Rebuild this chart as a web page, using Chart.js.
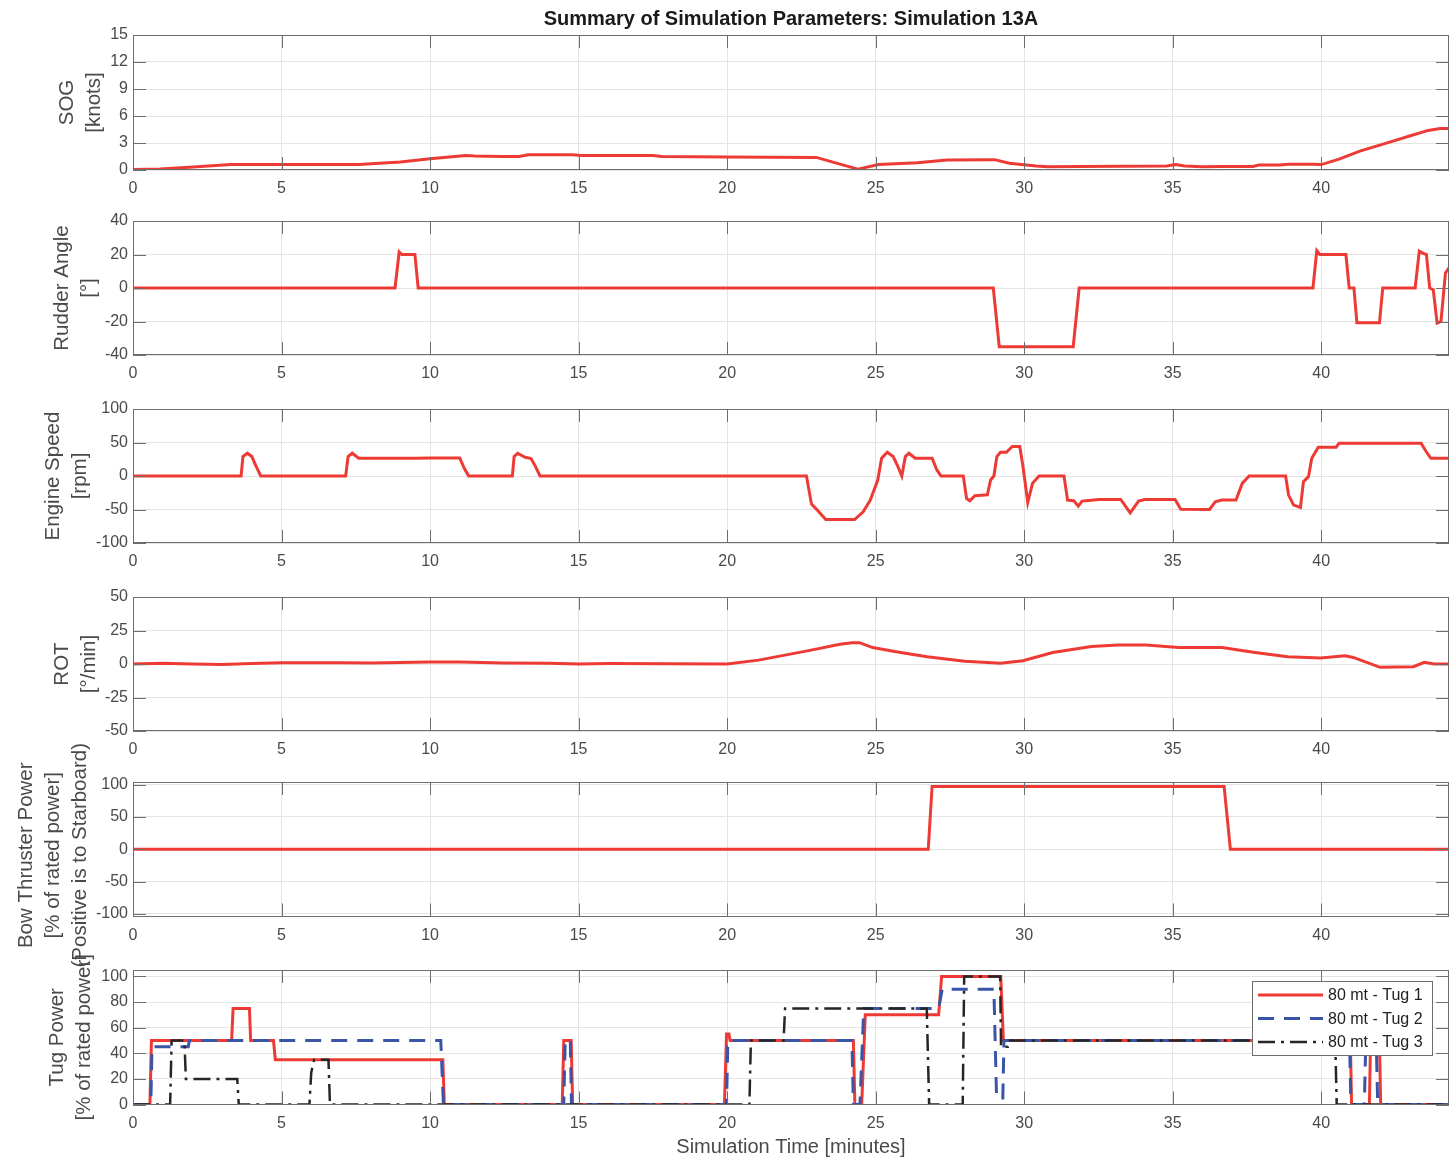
<!DOCTYPE html>
<html>
<head>
<meta charset="utf-8">
<title>Summary of Simulation Parameters: Simulation 13A</title>
<script src="https://cdn.jsdelivr.net/npm/chart.js@4/dist/chart.umd.min.js"></script>
<style>
  html, body { margin: 0; padding: 0; background: #ffffff; }
  #fig { position: relative; width: 1456px; height: 1165px; overflow: hidden; background: #ffffff; }
  #fig canvas { position: absolute; left: 0; }
</style>
</head>
<body>
<div id="fig"></div>
<script>
// ---------------- data (time in minutes) ----------------
const xTicksStep = 5;
const timeMax = 44.3;

// Speed over ground [knots]
const sogTime  = [0, 0.9, 1.9, 3.3, 7.6, 9.0, 10.0, 11.2, 11.5, 12.4, 13.0, 13.3, 14.8, 15.1, 17.5, 17.8, 20.0, 23.0, 24.4, 25.1, 26.4, 27.4, 29.0, 29.5, 30.4, 30.8, 31.9, 34.8, 35.1, 35.4, 36.0, 36.6, 37.7, 37.9, 38.6, 38.9, 39.7, 40.0, 40.6, 41.3, 42.3, 43.0, 43.6, 44.0, 44.3];
const sogKnots = [0.05, 0.1, 0.3, 0.6, 0.6, 0.9, 1.25, 1.6, 1.55, 1.5, 1.5, 1.7, 1.7, 1.6, 1.6, 1.5, 1.45, 1.4, 0.1, 0.6, 0.8, 1.1, 1.15, 0.75, 0.45, 0.35, 0.4, 0.45, 0.6, 0.45, 0.35, 0.4, 0.4, 0.55, 0.55, 0.65, 0.65, 0.6, 1.2, 2.1, 3.1, 3.8, 4.4, 4.6, 4.6];

// Rudder angle [deg]
const rudderTime = [0, 8.82, 8.96, 9.05, 9.49, 9.6, 28.96, 29.16, 31.65, 31.85, 39.72, 39.85, 39.95, 40.83, 40.94, 41.1, 41.2, 41.96, 42.07, 43.16, 43.3, 43.4, 43.54, 43.65, 43.77, 43.9, 44.03, 44.18, 44.3];
const rudderDeg  = [0, 0, 21.5, 20, 20, 0, 0, -35, -35, 0, 0, 22.3, 20, 20, 0, 0, -20.8, -20.8, 0, 0, 22, 21, 20, 0, -1, -21, -20, 9, 12];

// Engine speed [rpm]
const engineTime = [0, 3.64, 3.7, 3.85, 4.0, 4.15, 4.3,
  7.16, 7.24, 7.38, 7.6, 9.5, 10.0, 11.0, 11.15, 11.3,
  12.77, 12.83, 12.95, 13.2, 13.4, 13.55, 13.7,
  22.67, 22.84, 23.04, 23.32, 24.29, 24.58, 24.82, 25.07, 25.2, 25.39, 25.59, 25.75, 25.88, 26.0, 26.12, 26.33, 26.9, 27.06, 27.2,
  27.95, 28.06, 28.17, 28.34, 28.76, 28.87, 28.98, 29.08, 29.2, 29.4, 29.6, 29.85, 29.96, 30.12, 30.28, 30.5,
  31.34, 31.46, 31.67, 31.82, 31.95, 32.52, 33.25, 33.57, 33.85, 34.06, 35.08, 35.27, 36.24, 36.43, 36.65, 37.13, 37.34, 37.57,
  38.8, 38.9, 39.07, 39.3, 39.4, 39.57, 39.68, 39.9, 40.5, 40.6, 43.36, 43.53, 43.69, 44.3];
const engineRpm = [0, 0, 29, 34, 29, 14, 0,
  0, 29, 34, 26.5, 26.5, 27, 27, 11.5, 0,
  0, 29, 34, 28, 26, 14, 0,
  0, -42, -51, -65, -65, -53.5, -36, -6, 26.5, 35.5, 29, 14, 0, 29, 34, 26.5, 26.5, 9, 0,
  0, -33.5, -37, -29.5, -28, -6, 0, 29, 35.5, 35.5, 44, 44, 14, -39.5, -11, 0,
  0, -36, -37, -45, -37.5, -35, -35, -55, -37.5, -35, -35, -49.5, -50, -38.5, -36, -36, -11, 0,
  0, -28.5, -43.5, -47, -8.5, -1, 26.5, 43, 43, 49, 49, 36.5, 26.5, 26.5];

// Rate of turn [deg/min]
const rotTime = [0, 1.0, 2.0, 3.0, 4.0, 5.0, 7.0, 8.0, 10.0, 11.0, 12.5, 14.0, 15.0, 16.0, 20.0, 21.06, 22.7, 23.8, 24.2, 24.45, 24.9, 25.64, 26.73, 28.0, 29.2, 29.96, 30.96, 32.26, 33.16, 34.1, 35.2, 36.66, 37.77, 38.87, 39.98, 40.8, 41.08, 41.98, 43.1, 43.47, 43.8, 44.3];
const rotValue = [0, 0.5, 0, -0.3, 0.3, 1.0, 1.0, 0.8, 1.5, 1.5, 0.8, 0.5, 0, 0.3, 0, 2.9, 9.8, 14.7, 15.9, 15.9, 12.25, 9.3, 5.4, 2, 0.5, 2.45, 8.6, 13, 14.2, 14.2, 12.25, 12.25, 8.6, 5.4, 4.4, 6.1, 4.9, -2.45, -2, 1.2, 0, 0];

// Bow thruster power [% of rated power]
const bowTime  = [0, 26.77, 26.9, 36.73, 36.94, 44.3];
const bowPower = [0, 0, 97, 97, 0, 0];

// Tug power [% of rated power]
const tug1Time  = [0, 0.57, 0.62, 3.32, 3.37, 3.92, 3.96, 4.73, 4.79, 10.43, 10.48, 14.45, 14.5, 14.75, 14.8, 19.91, 19.98, 20.06, 20.1, 24.25, 24.3, 24.53, 24.65, 27.12, 27.22, 29.21, 29.3, 40.98, 41.02, 41.62, 41.66, 41.96, 42.0, 44.3];
const tug1Power = [0, 0, 50, 50, 75, 75, 50, 50, 35, 35, 0, 0, 50, 50, 0, 0, 55, 55, 50, 50, 0, 0, 70, 70, 100, 100, 50, 50, 0, 0, 50, 50, 0, 0];
const tug2Time  = [0, 0.6, 0.64, 1.86, 1.9, 10.36, 10.45, 14.5, 14.55, 14.72, 14.76, 19.98, 20.02, 20.08, 20.12, 24.2, 24.25, 24.47, 24.6, 27.12, 27.24, 28.98, 29.07, 29.28, 29.32, 40.95, 41.0, 41.45, 41.5, 41.85, 41.9, 44.3];
const tug2Power = [0, 0, 45, 45, 50, 50, 0, 0, 50, 50, 0, 0, 45, 45, 50, 50, 0, 0, 75, 75, 90, 90, 5, 5, 50, 50, 0, 0, 50, 50, 0, 0];
const tug3Time  = [0, 1.25, 1.3, 1.73, 1.78, 3.51, 3.56, 5.94, 6.0, 6.1, 6.58, 6.63, 20.75, 20.8, 21.9, 21.95, 26.72, 26.8, 27.93, 27.98, 29.19, 29.22, 29.45, 29.48, 40.47, 40.52, 44.3];
const tug3Power = [0, 0, 50, 50, 20, 20, 0, 0, 25, 35, 35, 0, 0, 50, 50, 75, 75, 0, 0, 100, 100, 45, 45, 50, 50, 0, 0];
const tugLabels = ['80 mt - Tug 1', '80 mt - Tug 2', '80 mt - Tug 3'];

const figureTitle = 'Summary of Simulation Parameters: Simulation 13A';
const xAxisTitle = 'Simulation Time [minutes]';

// ---------------- styling ----------------
const FONT = "'Liberation Sans', Arial, Helvetica, sans-serif";
const FIG_W = 1456, FIG_H = 1165;
const PLOT_LEFT = 133, PLOT_RIGHT = 1449;
const X_AXIS_H = 32;
const TICK_LEN = 13;
const TEXT_COLOR = '#4a4a4a';
const AXIS_COLOR = '#6e6e6e';
const GRID_COLOR = '#e4e4e4';
const RED = 'rgb(238,58,52)';
const BLUE = 'rgb(58,84,168)';
const DARK = '#262626';

const pts = (xs, ys) => xs.map((x, i) => ({ x, y: ys[i] }));

const redLine = (xs, ys, label) => ({
  label, data: pts(xs, ys), borderColor: RED, backgroundColor: RED,
  borderWidth: 3, pointRadius: 0, tension: 0, fill: false
});

const panels = [
  { top: 35,  bottom: 170,   yMin: 0,    yMax: 15,  yStep: 3,  titleLines: ['SOG', '[knots]'], titleX: 94,
    datasets: [redLine(sogTime, sogKnots, 'SOG')] },
  { top: 221, bottom: 355,   yMin: -40,  yMax: 40,  yStep: 20, titleLines: ['Rudder Angle', '[°]'], titleX: 89,
    datasets: [redLine(rudderTime, rudderDeg, 'Rudder Angle')] },
  { top: 409, bottom: 543,   yMin: -100, yMax: 100, yStep: 50, titleLines: ['Engine Speed', '[rpm]'], titleX: 80,
    datasets: [redLine(engineTime, engineRpm, 'Engine Speed')] },
  { top: 597, bottom: 731,   yMin: -50,  yMax: 50,  yStep: 25, titleLines: ['ROT', '[°/min]'], titleX: 89,
    datasets: [redLine(rotTime, rotValue, 'ROT')] },
  { top: 782, bottom: 916.5, yMin: -104, yMax: 104, yStep: 50, titleLines: ['Bow Thruster Power', '[% of rated power]', '(Positive is to Starboard)'], titleX: 80, titleDy: 6,
    datasets: [redLine(bowTime, bowPower, 'Bow Thruster Power')] },
  { top: 970, bottom: 1104.5, yMin: 0,   yMax: 105, yStep: 20, titleLines: ['Tug Power', '[% of rated power]'], titleX: 84,
    legend: true,
    datasets: [
      { label: tugLabels[0], data: pts(tug1Time, tug1Power), borderColor: RED, backgroundColor: RED,
        borderWidth: 3, pointRadius: 0, tension: 0, fill: false, order: 3 },
      { label: tugLabels[1], data: pts(tug2Time, tug2Power), borderColor: BLUE, backgroundColor: BLUE,
        borderWidth: 3, borderDash: [16, 10], pointRadius: 0, tension: 0, fill: false, order: 2 },
      { label: tugLabels[2], data: pts(tug3Time, tug3Power), borderColor: DARK, backgroundColor: DARK,
        borderWidth: 2.5, borderDash: [17, 6, 3, 6], pointRadius: 0, tension: 0, fill: false, order: 1 }
    ] }
];

// Box around the axes with inward ticks on all four sides
const framePlugin = {
  id: 'frame',
  afterDatasetsDraw(chart) {
    const { ctx, chartArea: a, scales: { x, y } } = chart;
    ctx.save();
    ctx.strokeStyle = AXIS_COLOR;
    ctx.lineWidth = 1;
    ctx.beginPath();
    x.ticks.forEach(t => {
      const px = Math.round(x.getPixelForValue(t.value)) + 0.5;
      ctx.moveTo(px, a.bottom); ctx.lineTo(px, a.bottom - TICK_LEN);
      ctx.moveTo(px, a.top);    ctx.lineTo(px, a.top + TICK_LEN);
    });
    y.ticks.forEach(t => {
      const py = Math.round(y.getPixelForValue(t.value)) + 0.5;
      ctx.moveTo(a.left, py);  ctx.lineTo(a.left + TICK_LEN, py);
      ctx.moveTo(a.right, py); ctx.lineTo(a.right - TICK_LEN, py);
    });
    ctx.stroke();
    ctx.strokeRect(Math.round(a.left) + 0.5, Math.round(a.top) + 0.5,
                   Math.round(a.width) - 1, Math.round(a.height) - 1);
    ctx.restore();
  }
};

// Axis titles, figure title and the boxed legend
const textPlugin = {
  id: 'panelText',
  afterDraw(chart, args, opts) {
    const { ctx, chartArea: a } = chart;
    ctx.save();
    // y-axis title, one rotated line per entry
    const lines = opts.titleLines || [];
    const n = lines.length;
    const cy = (a.top + a.bottom) / 2 + (opts.titleDy || 0);
    ctx.fillStyle = TEXT_COLOR;
    ctx.font = '20.5px ' + FONT;
    ctx.textAlign = 'center';
    ctx.textBaseline = 'middle';
    lines.forEach((s, i) => {
      const lx = opts.titleX - (n - 1 - i) * 27;
      ctx.save();
      ctx.translate(lx, cy);
      ctx.rotate(-Math.PI / 2);
      ctx.fillText(s, 0, 0);
      ctx.restore();
    });
    if (opts.figureTitle) {
      ctx.fillStyle = '#1a1a1a';
      ctx.font = 'bold 20px ' + FONT;
      ctx.fillText(opts.figureTitle, (a.left + a.right) / 2, a.top - 16);
    }
    if (opts.xTitle) {
      ctx.fillStyle = TEXT_COLOR;
      ctx.font = '20px ' + FONT;
      ctx.fillText(opts.xTitle, (a.left + a.right) / 2, a.bottom + 43);
    }
    if (opts.legend) {
      const w = 180, h = 74;
      const lx = a.right - 17 - w, ly = a.top + 11;
      ctx.fillStyle = '#ffffff';
      ctx.fillRect(lx, ly, w, h);
      ctx.strokeStyle = AXIS_COLOR;
      ctx.lineWidth = 1;
      ctx.strokeRect(Math.round(lx) + 0.5, Math.round(ly) + 0.5, w, h);
      ctx.font = '16px ' + FONT;
      ctx.textAlign = 'left';
      chart.data.datasets.forEach((ds, i) => {
        const ry = ly + 14 + i * 23.5;
        ctx.save();
        ctx.strokeStyle = ds.borderColor;
        ctx.lineWidth = ds.borderWidth;
        ctx.setLineDash(ds.borderDash || []);
        ctx.beginPath();
        ctx.moveTo(lx + 6, ry);
        ctx.lineTo(lx + 71, ry);
        ctx.stroke();
        ctx.restore();
        ctx.fillStyle = '#222222';
        ctx.fillText(ds.label, lx + 76, ry + 1);
      });
    }
    ctx.restore();
  }
};

const fig = document.getElementById('fig');

panels.forEach((p, idx) => {
  const last = idx === panels.length - 1;
  const canvasTop = idx === 0 ? 0 : p.top - 60;
  const canvasBottom = last ? FIG_H : p.bottom + 60;
  const canvas = document.createElement('canvas');
  canvas.width = FIG_W;
  canvas.height = Math.round(canvasBottom - canvasTop);
  canvas.style.top = canvasTop + 'px';
  canvas.style.width = FIG_W + 'px';
  canvas.style.height = canvas.height + 'px';
  fig.appendChild(canvas);

  new Chart(canvas, {
    type: 'line',
    data: { datasets: p.datasets },
    options: {
      responsive: false,
      animation: false,
      devicePixelRatio: 1,
      events: [],
      layout: {
        padding: {
          top: p.top - canvasTop,
          right: FIG_W - PLOT_RIGHT,
          bottom: canvas.height - (p.bottom - canvasTop) - X_AXIS_H,
          left: 0
        }
      },
      plugins: {
        legend: { display: false },
        tooltip: { enabled: false },
        panelText: {
          titleLines: p.titleLines,
          titleX: p.titleX,
          titleDy: p.titleDy || 0,
          figureTitle: idx === 0 ? figureTitle : null,
          xTitle: last ? xAxisTitle : null,
          legend: !!p.legend
        }
      },
      scales: {
        x: {
          type: 'linear',
          min: 0,
          max: timeMax,
          afterFit: s => { s.height = X_AXIS_H; },
          border: { display: false },
          grid: { color: GRID_COLOR, lineWidth: 1, drawTicks: false },
          ticks: {
            stepSize: xTicksStep, includeBounds: false, autoSkip: false, maxRotation: 0,
            padding: 9, color: TEXT_COLOR, font: { family: FONT, size: 16 }
          }
        },
        y: {
          type: 'linear',
          min: p.yMin,
          max: p.yMax,
          afterFit: s => { s.width = PLOT_LEFT; },
          border: { display: false },
          grid: { color: GRID_COLOR, lineWidth: 1, drawTicks: false },
          ticks: {
            stepSize: p.yStep, includeBounds: false, autoSkip: false,
            padding: 5, color: TEXT_COLOR, font: { family: FONT, size: 16 }
          }
        }
      }
    },
    plugins: [framePlugin, textPlugin]
  });
});
</script>
</body>
</html>
